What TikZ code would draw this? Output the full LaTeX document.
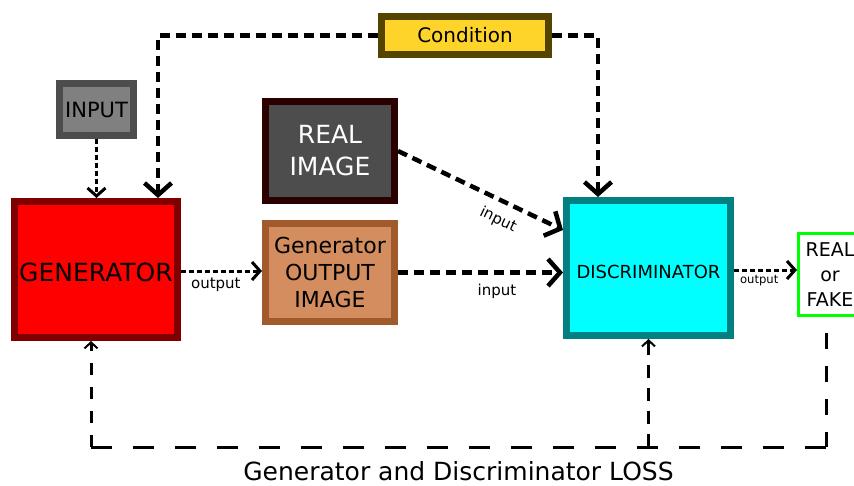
\documentclass[tikz,border=0pt]{standalone}
\usepackage{fontspec}
\setmainfont{DejaVu Sans}
\usetikzlibrary{arrows.meta,calc}

\definecolor{inputfill}{HTML}{808080}
\definecolor{inputline}{HTML}{4D4D4D}
\definecolor{condfill}{HTML}{FFD42A}
\definecolor{condline}{HTML}{554400}
\definecolor{realfill}{HTML}{4D4D4D}
\definecolor{realline}{HTML}{2B0000}
\definecolor{genoutfill}{HTML}{D38D5F}
\definecolor{genoutline}{HTML}{A05A2C}
\definecolor{genfill}{HTML}{FF0000}
\definecolor{genline}{HTML}{800000}
\definecolor{discfill}{HTML}{00FFFF}
\definecolor{discline}{HTML}{008080}
\definecolor{rfline}{HTML}{00FF00}

\tikzset{
  box/.style={draw, line width=7pt, inner sep=0pt, align=center},
  fs/.style={font=\fontsize{#1}{#1}\selectfont},
  heavydash/.style={line width=4.5pt, dash pattern=on 10pt off 6pt,
    -{Straight Barb[length=12pt,width=27pt,line width=4.5pt]}},
  lightdash/.style={line width=3pt, dash pattern=on 5pt off 3pt,
    -{Straight Barb[length=8pt,width=18pt,line width=3pt]}},
  losspath/.style={line width=3pt},
  losstip/.style={-{Straight Barb[length=6pt,width=13pt,line width=2pt]}},
  edgelabel/.style={text=black, inner sep=3.33pt},
}

\begin{document}
\begin{tikzpicture}[x=1pt, y=-1pt]
\useasboundingbox (0,0) rectangle (854,485);
\clip (0,0) rectangle (854,485);

% blocks
\node[box, draw=inputline, fill=inputfill, minimum width=74pt, minimum height=52pt, fs=21]
  (input) at (96.5,109.5) {INPUT};
\node[box, draw=condline, fill=condfill, minimum width=167pt, minimum height=38pt, fs=20]
  (cond) at (465,35.5) {Condition};
\node[box, draw=realline, fill=realfill, text=white, minimum width=129pt, minimum height=99pt,
  font=\fontsize{25}{32}\selectfont]
  (real) at (330,151) {REAL\\IMAGE};
\node[box, draw=genoutline, fill=genoutfill, minimum width=129pt, minimum height=98pt,
  font=\fontsize{22}{27}\selectfont]
  (genout) at (330,272.5) {Generator\\OUTPUT\\IMAGE};
\node[box, draw=genline, fill=genfill, minimum width=163pt, minimum height=136pt, fs=25,
  text height=23pt, text depth=0pt]
  (gen) at (96,269.5) {GENERATOR};
\node[box, draw=discline, fill=discfill, minimum width=164pt, minimum height=135pt, fs=18,
  text height=21pt, text depth=0pt]
  (disc) at (648.5,268) {DISCRIMINATOR};
\node[draw=rfline, line width=3pt, fill=white, inner sep=0pt, align=center,
  minimum width=63pt, minimum height=82pt, font=\fontsize{19}{25}\selectfont]
  (rf) at (830,274.5) {REAL\\or\\FAKE};

% condition feeds both networks
\draw[heavydash] (cond.west) -| ([xshift=62pt]gen.north);
\draw[heavydash] (cond.east) -| ([xshift=-50.5pt]disc.north);

% noise input
\draw[lightdash] (input.south) -- (input.south |- gen.north);

% generator output
\draw[lightdash] ([yshift=-1.5pt]gen.east) -- node[edgelabel, below=2pt, pos=0.43, fs=15] {output}
  ([yshift=-1.5pt]gen.east -| genout.west);

% discriminator inputs
\draw[heavydash] (real.east) -- node[edgelabel, sloped, below=6pt, pos=0.655, fs=15] {input}
  ([yshift=38pt]disc.west);
\draw[heavydash] (genout.east) -- node[edgelabel, below=6pt, pos=0.6, fs=15] {input}
  (genout.east -| disc.west);

% discriminator output
\draw[lightdash] ([yshift=-2pt]disc.east) -- node[edgelabel, below=1pt, pos=0.4, fs=11.6] {output}
  ([yshift=-2pt]disc.east -| rf.west);

% loss feedback loop
\coordinate (lossrow) at (0,447);
\coordinate (lossstart) at ([xshift=-4pt,yshift=-16pt]rf.south);
\coordinate (lossright) at (lossstart |- lossrow);
\coordinate (genfoot) at ([xshift=-5pt]gen.south);
\coordinate (lossleft) at (genfoot |- lossrow);
\coordinate (discfoot) at (disc.south);
\coordinate (lossmid) at (discfoot |- lossrow);

\draw[losspath, dash pattern=on 16pt off 17pt] (lossstart) -- (lossright);
\draw[losspath, dash pattern=on 21pt off 21pt] (lossright) -- (lossleft);
\draw[losspath, losstip, dash pattern=on 12pt off 12pt] (lossleft) -- (genfoot);
\draw[losspath, losstip, dash pattern=on 13pt off 10pt] (lossmid) -- (discfoot);

\node[fs=25, inner sep=0pt] (losstext) at (458.5,471) {Generator and Discriminator LOSS};
\end{tikzpicture}
\end{document}
